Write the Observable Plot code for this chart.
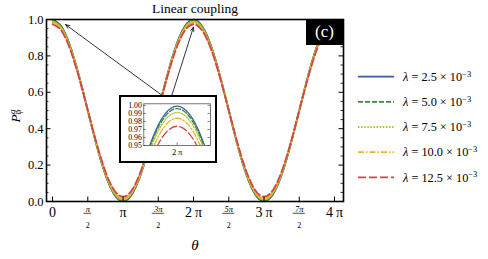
<!DOCTYPE html>
<html><head><meta charset="utf-8">
<script src="https://cdn.jsdelivr.net/npm/d3@7"></script>
<script src="https://cdn.jsdelivr.net/npm/@observablehq/plot@0.6"></script>
<style>
body{margin:0;background:#fff;}
#wrap{position:relative;width:488px;height:259px;font-family:"Liberation Serif","DejaVu Serif",serif;overflow:hidden;}
#wrap svg{font-family:"Liberation Serif","DejaVu Serif",serif;}
#inset{position:absolute;left:119px;top:95px;border:2px solid #000;background:#fff;width:94px;height:64px;}
#inset svg{display:block;}
#tag{position:absolute;left:306px;top:19px;width:37px;height:26px;background:#000;color:#fff;font-size:17px;line-height:26px;text-align:center;font-family:"Liberation Serif","DejaVu Serif",serif;}
#legend{position:absolute;left:350px;top:60px;}
</style></head><body><div id="wrap"></div>
<script>
// ---- data ----
const thetaEighths = [0,1,2,3,4,5,6,7,8,9,10,11,12,13,14,15,16,17,18,19,20,21,22,23,24,25,26,27,28,29,30,31,32]; // θ in units of π/8
const lambdaLabels = ["2.5","5.0","7.5","10.0","12.5"];
const pBlue   = [0.999,0.961,0.853,0.691,0.500,0.309,0.147,0.039,0.001,0.039,0.147,0.309,0.500,0.691,0.853,0.961,0.999,0.961,0.853,0.691,0.500,0.309,0.147,0.039,0.001,0.039,0.147,0.309,0.500,0.691,0.853,0.961,0.999];
const pGreen  = [0.996,0.958,0.851,0.690,0.500,0.310,0.149,0.042,0.004,0.042,0.149,0.310,0.500,0.690,0.851,0.958,0.996,0.958,0.851,0.690,0.500,0.310,0.149,0.042,0.004,0.042,0.149,0.310,0.500,0.690,0.851,0.958,0.996];
const pOlive  = [0.991,0.954,0.847,0.688,0.500,0.312,0.153,0.046,0.009,0.046,0.153,0.312,0.500,0.688,0.847,0.954,0.991,0.954,0.847,0.688,0.500,0.312,0.153,0.046,0.009,0.046,0.153,0.312,0.500,0.688,0.847,0.954,0.991];
const pOrange = [0.984,0.947,0.842,0.685,0.500,0.315,0.158,0.053,0.016,0.053,0.158,0.315,0.500,0.685,0.842,0.947,0.984,0.947,0.842,0.685,0.500,0.315,0.158,0.053,0.016,0.053,0.158,0.315,0.500,0.685,0.842,0.947,0.984];
const pRed    = [0.974,0.938,0.835,0.681,0.500,0.319,0.165,0.062,0.026,0.062,0.165,0.319,0.500,0.681,0.835,0.938,0.974,0.938,0.835,0.681,0.500,0.319,0.165,0.062,0.026,0.062,0.165,0.319,0.500,0.681,0.835,0.938,0.974];
const seriesValues = [pBlue, pGreen, pOlive, pOrange, pRed];
const seriesColors = ["#3b5ba5","#3a8a3a","#adc22c","#e6b530","#d2464b"];
const seriesDashes = [null,"5,2","1.5,1.6","6,2,1.5,2","8,3"];

const xTickMultiples = [0,0.5,1,1.5,2,2.5,3,3.5,4];
const xTickNumerators = ["0","π","π","3π","2π","5π","3π","7π","4π"];
const xTickDenominators = ["","2","","2","","2","","2",""];
const yMajor = [0,0.2,0.4,0.6,0.8,1.0];
const yMinor = [0.05,0.1,0.15,0.25,0.3,0.35,0.45,0.5,0.55,0.65,0.7,0.75,0.85,0.9,0.95];
const insetYTicks = [0.95,0.96,0.97,0.98,0.99,1.00];
// annotation arrows (from inset to peaks), data coords
const arrowFromTheta = [4.95, 5.30];
const arrowFromP = [0.577, 0.577];
const arrowToTheta = [0.58, 6.28];
const arrowToP = [0.972, 0.958];

// ---- build ----
const FONT = "'Liberation Serif', 'DejaVu Serif', serif";
const PI = Math.PI;
const series = seriesValues.map((vals, i) => ({
  label: lambdaLabels[i], color: seriesColors[i], dash: seriesDashes[i],
  data: vals.map((p, k) => ({theta: thetaEighths[k] * PI / 8, p}))
}));
const xTicks = xTickMultiples.map((m, i) => ({v: m * PI, num: xTickNumerators[i], den: xTickDenominators[i]}));
const intTicks = xTicks.filter(d => d.den === "");
const fracTicks = xTicks.filter(d => d.den !== "");
const arrows = arrowFromTheta.map((t, i) => ({x1: t, y1: arrowFromP[i], x2: arrowToTheta[i], y2: arrowToP[i]}));

const W = 488, H = 259, mL = 46, mR = 145, mT = 19, mB = 58;
const FW = W - mL - mR, FH = H - mT - mB;
const T = {fontFamily: FONT, lineAnchor: "middle"};

const lineMarks = series.map(s => Plot.line(s.data, {
  x: "theta", y: "p", stroke: s.color, strokeWidth: 1.8,
  strokeDasharray: s.dash || undefined, curve: "natural"
}));

const main = Plot.plot({
  width: W, height: H, marginLeft: mL, marginRight: mR, marginTop: mT, marginBottom: mB,
  x: {domain: [-0.27, 4 * PI + 0.40], axis: null},
  y: {domain: [0, 1], axis: null},
  style: {fontFamily: FONT, fontSize: "11px", overflow: "visible", background: "transparent"},
  marks: [
    ...lineMarks,
    Plot.arrow(arrows, {x1: "x1", y1: "y1", x2: "x2", y2: "y2", stroke: "#000", strokeWidth: 0.8, headLength: 8, headAngle: 45}),
    Plot.frame({stroke: "#000", strokeWidth: 1.6}),
    Plot.tickY(yMajor, {y: d => d, insetRight: FW - 4.5, stroke: "#000", strokeWidth: 1}),
    Plot.tickY(yMinor, {y: d => d, insetRight: FW - 2.5, stroke: "#000", strokeWidth: 0.8}),
    Plot.tickY(yMajor, {y: d => d, insetLeft: FW - 4.5, stroke: "#000", strokeWidth: 1}),
    Plot.tickY(yMinor, {y: d => d, insetLeft: FW - 2.5, stroke: "#000", strokeWidth: 0.8}),
    Plot.tickX(xTicks, {x: "v", insetTop: FH - 4.5, stroke: "#000", strokeWidth: 1}),
    Plot.text(yMajor, {...T, y: d => d, text: d => d.toFixed(1), frameAnchor: "left", textAnchor: "end", dx: -3, fontSize: 12.5}),
    Plot.text(intTicks, {...T, x: "v", text: d => d.num.replace(/(\d)π/, "$1\u2009π"), frameAnchor: "bottom", dy: 11, fontSize: 14}),
    Plot.text(fracTicks, {...T, x: "v", text: "num", frameAnchor: "bottom", dy: 7.5, fontSize: 8.5, fontStyle: "italic"}),
    Plot.ruleY(fracTicks, {y: 0, x1: d => d.v - (d.num.length > 1 ? 0.27 : 0.17), x2: d => d.v + (d.num.length > 1 ? 0.27 : 0.17), dy: 11.8, stroke: "#000", strokeWidth: 0.7}),
    Plot.text(fracTicks, {...T, x: "v", text: "den", frameAnchor: "bottom", dy: 24, fontSize: 8}),
    Plot.text(["θ"], {...T, frameAnchor: "bottom", dy: 44, text: d => d, fontSize: 15, fontStyle: "italic"}),
    Plot.text(["Linear coupling"], {...T, frameAnchor: "top", dy: -11, text: d => d, fontSize: 13.5}),
    Plot.text(["P"], {...T, frameAnchor: "left", dx: -30.5, dy: 12, text: d => d, fontSize: 13.5, fontStyle: "italic", rotate: -90}),
    Plot.text(["g"], {...T, frameAnchor: "left", dx: -34, dy: 3.5, text: d => d, fontSize: 9, fontStyle: "italic", rotate: -90}),
    Plot.text(["φ"], {...T, frameAnchor: "left", dx: -28, dy: 4, text: d => d, fontSize: 9, fontStyle: "italic", rotate: -90})
  ]
});

const wrap = document.getElementById("wrap");
wrap.appendChild(main);

// ---- inset ----
const iW = 94, iH = 64, imL = 22.3, imR = 5, imT = 6.3, imB = 16;
const iFW = iW - imL - imR;
const insetMarks = series.map(s => Plot.line(s.data, {
  x: "theta", y: "p", stroke: s.color, strokeWidth: 1.3,
  strokeDasharray: s.dash || undefined, curve: "natural", clip: true
}));
const inset = Plot.plot({
  width: iW, height: iH, marginLeft: imL, marginRight: imR, marginTop: imT, marginBottom: imB,
  x: {domain: [2 * PI - 0.544, 2 * PI + 0.544], axis: null},
  y: {domain: [0.95, 1.002], axis: null},
  style: {fontFamily: FONT, fontSize: "7.5px", overflow: "visible", background: "#fff"},
  marks: [
    ...insetMarks,
    Plot.frame({stroke: "#555", strokeWidth: 0.8}),
    Plot.tickY(insetYTicks, {y: d => d, insetRight: iFW - 2.5, stroke: "#333", strokeWidth: 0.6}),
    Plot.tickY(insetYTicks, {y: d => d, insetLeft: iFW - 2.5, stroke: "#333", strokeWidth: 0.6}),
    Plot.tickX([2 * PI], {x: d => d, insetTop: iH - imT - imB - 2.5, stroke: "#333", strokeWidth: 0.6}),
    Plot.text(insetYTicks, {...T, y: d => d, text: d => d.toFixed(2), frameAnchor: "left", textAnchor: "end", dx: -2, fontSize: 7.8}),
    Plot.text([2 * PI], {...T, x: d => d, text: () => "2\u2009π", frameAnchor: "bottom", dy: 7, fontSize: 8.5})
  ]
});
const insetDiv = document.createElement("div");
insetDiv.id = "inset";
insetDiv.appendChild(inset);
wrap.appendChild(insetDiv);

// ---- panel tag ----
const tag = document.createElement("div");
tag.id = "tag";
tag.textContent = "(c)";
wrap.appendChild(tag);

// ---- legend ----
const leg = d3.select(wrap).append("svg").attr("id", "legend").attr("width", 138).attr("height", 135)
  .style("font-family", FONT);
series.forEach((s, i) => {
  const y = 16.7 + i * 25.15;
  leg.append("line").attr("x1", 8).attr("x2", 44).attr("y1", y).attr("y2", y)
    .attr("stroke", s.color).attr("stroke-width", 1.8)
    .attr("stroke-dasharray", s.dash);
  const t = leg.append("text").attr("x", 53).attr("y", y).attr("dy", "0.35em").style("font-size", "12.3px");
  t.append("tspan").style("font-style", "italic").text("λ");
  t.append("tspan").text(" = " + s.label + " × 10");
  t.append("tspan").attr("dy", "-0.5em").style("font-size", "8.5px").text("−3");
});
</script>
</body></html>
